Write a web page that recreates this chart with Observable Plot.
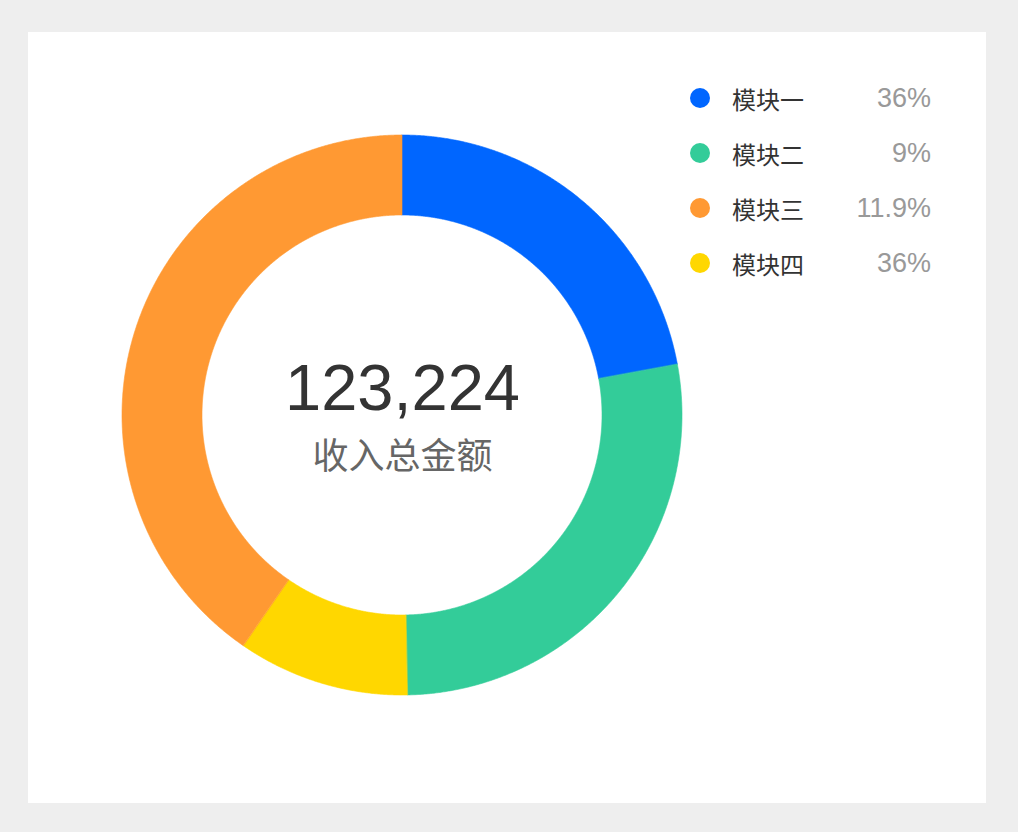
<!DOCTYPE html>
<html>
<head>
<meta charset="utf-8">
<script src="https://cdn.jsdelivr.net/npm/d3@7"></script>
<script src="https://cdn.jsdelivr.net/npm/@observablehq/plot@0.6"></script>
<style>
  html, body { margin: 0; padding: 0; background: #eeeeee; width: 1018px; height: 832px; overflow: hidden; }
  #card { position: absolute; left: 28px; top: 32px; width: 958px; height: 771px; background: #ffffff; }
  #chart { position: absolute; left: 0; top: 0; }
  .row { position: absolute; left: 662px; width: 241px; height: 40px; display: flex; align-items: center;
         font-family: "Noto Sans CJK SC", "Noto Sans", sans-serif; }
  .dot { width: 20px; height: 20px; border-radius: 50%; flex: none; }
  .lab { margin-left: 22px; font-size: 24px; color: #333333; flex: none; }
  .pct { margin-left: auto; font-family: "Liberation Sans", Arial, sans-serif; font-size: 27px; color: #999999; }
</style>
</head>
<body>
<div id="card"><div id="chart"></div></div>
<script>
// Legend (as shown in the reference)
const legendNames = ["模块一", "模块二", "模块三", "模块四"];
const legendPct = ["36%", "9%", "11.9%", "36%"];
const colors = ["#0066ff", "#33cc99", "#ff9933", "#ffd700"];

// Slices in drawing order (clockwise from top), values read from the ring
const sliceNames = ["模块一", "模块二", "模块四", "模块三"];
const sliceValues = [22.1, 27.6, 9.9, 40.4];

const centerValue = "123,224";
const centerLabel = "收入总金额";

const innerR = 200 / 280, outerR = 1;

const pie = d3.pie().sort(null).value(d => d.value)
  .startAngle(0).endAngle(2 * Math.PI);
const arcs = pie(sliceNames.map((n, i) => ({name: n, value: sliceValues[i]})));
const ring = [];
for (const a of arcs) {
  const n = Math.max(2, Math.ceil((a.endAngle - a.startAngle) / (Math.PI / 720)));
  for (let k = 0; k <= n; k++) {
    const t = a.startAngle + (a.endAngle - a.startAngle) * k / n;
    ring.push({
      name: a.data.name,
      x1: innerR * Math.sin(t), y1: innerR * Math.cos(t),
      x2: outerR * Math.sin(t), y2: outerR * Math.cos(t)
    });
  }
}

const W = 958, H = 771, cx = 374, cy = 383, R = 280;
const chart = Plot.plot({
  width: W, height: H,
  margin: 0,
  x: {domain: [-cx / R, (W - cx) / R], axis: null},
  y: {domain: [-(H - cy) / R, cy / R], axis: null},
  color: {domain: legendNames, range: colors},
  marks: [
    Plot.area(ring, {x1: "x1", y1: "y1", x2: "x2", y2: "y2", z: "name", fill: "name",
      stroke: "name", strokeWidth: 0.6, curve: "linear"}),
    Plot.text([centerValue], {x: () => 0, y: () => 0, text: d => d, dy: -26,
      fontSize: 65, fill: "#333333", fontFamily: "Liberation Sans, Arial, sans-serif",
      textAnchor: "middle"}),
    Plot.text([centerLabel], {x: () => 0, y: () => 0, text: d => d, dy: 42,
      fontSize: 36, fill: "#666666", fontFamily: "Noto Sans CJK SC, sans-serif",
      textAnchor: "middle"})
  ]
});
document.getElementById("chart").appendChild(chart);

const card = document.getElementById("card");
legendNames.forEach((name, i) => {
  const row = document.createElement("div");
  row.className = "row";
  row.style.top = (46 + i * 55) + "px";
  row.innerHTML = `<span class="dot" style="background:${colors[i]}"></span>` +
    `<span class="lab">${name}</span><span class="pct">${legendPct[i]}</span>`;
  card.appendChild(row);
});
</script>
</body>
</html>
